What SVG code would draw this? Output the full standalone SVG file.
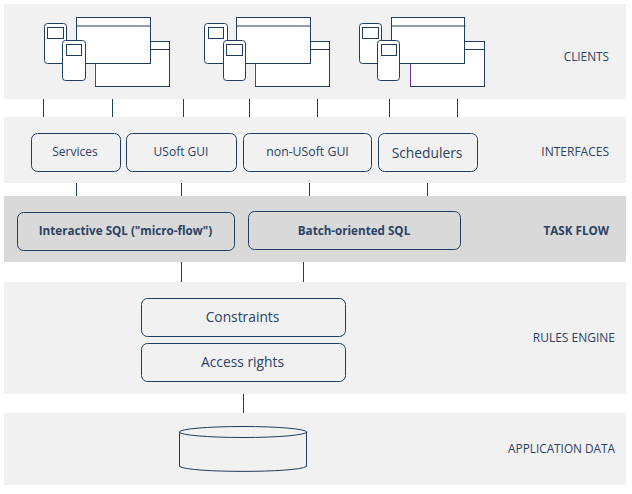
<svg xmlns="http://www.w3.org/2000/svg" width="632" height="494" viewBox="0 0 632 494">
<style>
.band{fill:#f1f1f1}
.s{fill:#fff;stroke:#1f3d60;stroke-width:1}
.box{stroke:#1f3d60;stroke-width:1;fill:none}
.l{stroke:#1f3d60;stroke-width:1;fill:none}
.p{stroke:#7030a0;stroke-width:1;fill:none}
text{font-family:"Open Sans","Noto Sans","Liberation Sans",sans-serif;font-size:12px;fill:#2a4264}
.c{text-anchor:middle}
.r{text-anchor:end}
.r2{font-size:11.800px}
.b{font-weight:700;font-size:11.650px}
.big{font-size:13.800px}
</style>
<rect width="632" height="494" fill="#fff"/>
<g id="bands">
<rect class="band" x="4" y="4" width="622" height="95"/>
<rect class="band" x="4" y="117" width="622" height="66"/>
<rect x="4" y="196" width="622" height="66" fill="#d9d9d9"/>
<rect class="band" x="4" y="282" width="622" height="112"/>
<rect class="band" x="4" y="413" width="622" height="72"/>
</g>
<g id="connectors">
<path class="l" d="M43.5 99V117M112.5 99V117M183.5 99V117M249.5 99V117M317.5 99V117M389.5 99V117M457.5 99V117M76.5 183V196M181.5 183V196M309.5 183V196M427.5 183V196M181.5 262V282M303.5 262V282M243.5 394V413"/>
</g>
<g id="client-1">
<rect class="s" x="95.5" y="41.5" width="74" height="45"/><path class="l" d="M150 49.5H169.5"/><path class="p" d="M95.5 63V86"/>
<rect class="s" x="76.5" y="17.5" width="74" height="46"/><path class="l" d="M76.5 26H150.5"/>
<rect class="s" x="44.5" y="23.5" width="22" height="40" rx="3"/><rect class="s" x="47.5" y="27.5" width="16" height="11"/>
<rect class="s" x="62.5" y="40.5" width="23" height="40" rx="3"/><rect class="s" x="66.5" y="44.5" width="15" height="11"/>
</g>
<g id="client-2">
<rect class="s" x="255.5" y="41.5" width="74" height="45"/><path class="l" d="M310 49.5H329.5"/><path class="p" d="M255.5 63V86"/>
<rect class="s" x="236.5" y="17.5" width="74" height="46"/><path class="l" d="M236.5 26H310.5"/>
<rect class="s" x="204.5" y="23.5" width="23" height="40" rx="3"/><rect class="s" x="208.5" y="27.5" width="15" height="11"/>
<rect class="s" x="223.5" y="40.5" width="22" height="40" rx="3"/><rect class="s" x="226.5" y="44.5" width="16" height="11"/>
</g>
<g id="client-3">
<rect class="s" x="410.5" y="41.5" width="74" height="45"/><path class="l" d="M465 49.5H484.5"/><path class="p" d="M410.5 63V86"/>
<rect class="s" x="391.5" y="17.5" width="73" height="46"/><path class="l" d="M391.5 26H465.5"/>
<rect class="s" x="359.5" y="23.5" width="22" height="40" rx="3"/><rect class="s" x="362.5" y="27.5" width="16" height="11"/>
<rect class="s" x="377.5" y="40.5" width="22" height="40" rx="3"/><rect class="s" x="381.5" y="44.5" width="15" height="11"/>
</g>
<g id="services"><rect class="box" x="31.5" y="133.5" width="89" height="38" rx="6"/><text class="c" x="75" y="156">Services</text></g>
<g id="usoft-gui"><rect class="box" x="126.5" y="133.5" width="110" height="38" rx="6"/><text class="c" x="181" y="156">USoft GUI</text></g>
<g id="non-usoft-gui"><rect class="box" x="243.5" y="133.5" width="128" height="38" rx="6"/><text class="c" x="307.5" y="156" style="font-size:12.300px">non-USoft GUI</text></g>
<g id="schedulers"><rect class="box" x="378.5" y="133.5" width="99" height="38" rx="6"/><text class="c big" x="427" y="157.500">Schedulers</text></g>
<g id="interactive-sql"><rect class="box" x="17.5" y="212.5" width="217" height="38" rx="6"/><text class="c b" x="125.5" y="235">Interactive SQL ("micro-flow")</text></g>
<g id="batch-sql"><rect class="box" x="248.5" y="211.5" width="212" height="38" rx="6"/><text class="c b" x="354" y="235">Batch-oriented SQL</text></g>
<g id="constraints"><rect class="box" x="141.5" y="298.5" width="204" height="38" rx="6"/><text class="c big" x="242.500" y="322">Constraints</text></g>
<g id="access-rights"><rect class="box" x="141.5" y="343.5" width="204" height="38" rx="6"/><text class="c big" x="242.500" y="367">Access rights</text></g>
<g id="database"><path class="box" d="M179.500 431.500V466.500C190 473 296 473 306.500 466.500V431.500"/><ellipse class="box" cx="243" cy="432" rx="63.500" ry="5.500"/></g>
<g id="labels">
<text class="r r2" x="609" y="61">CLIENTS</text>
<text class="r" x="609" y="156">INTERFACES</text>
<text class="r b" x="609" y="235">TASK FLOW</text>
<text class="r" x="615" y="342">RULES ENGINE</text>
<text class="r r2" x="615" y="453">APPLICATION DATA</text>
</g>
</svg>
